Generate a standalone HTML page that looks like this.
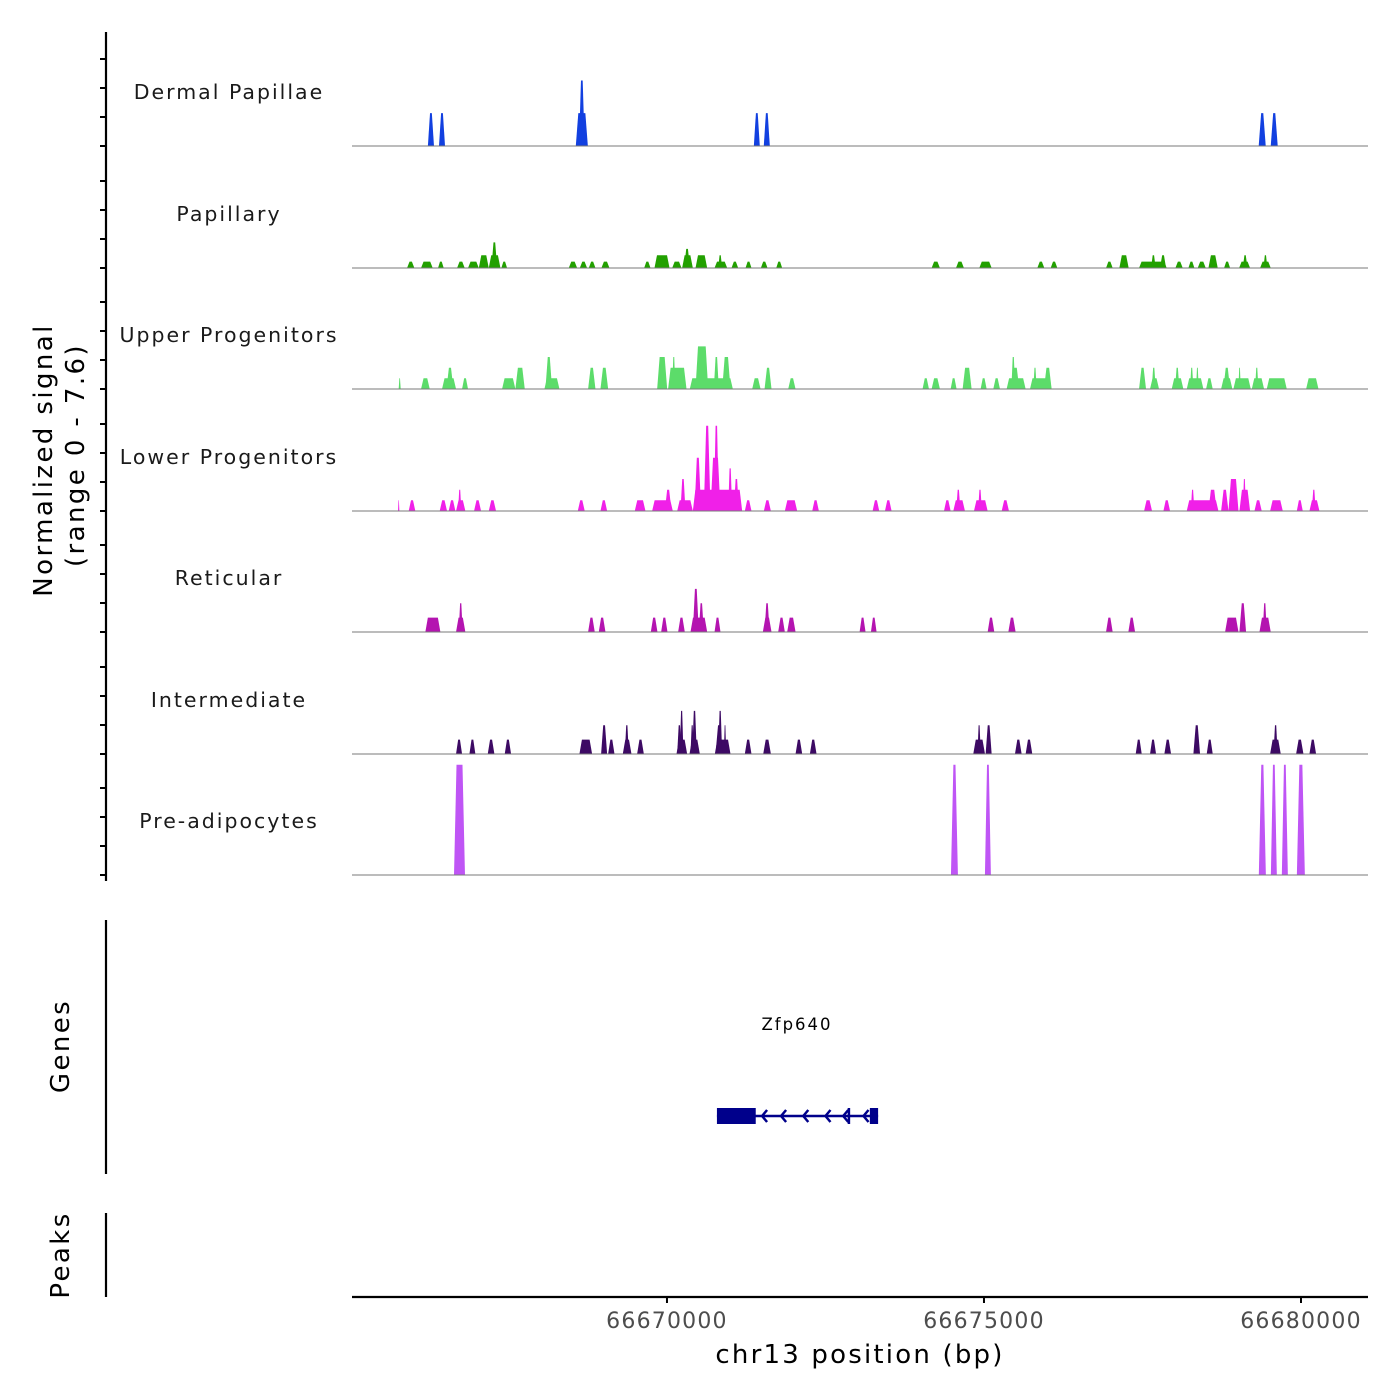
<!DOCTYPE html>
<html><head><meta charset="utf-8"><style>
html,body{margin:0;padding:0;background:#fff;}
svg{display:block;font-family:"DejaVu Sans","Liberation Sans",sans-serif;}
</style></head><body>
<svg id="chart" width="1400" height="1400" viewBox="0 0 1400 1400"></svg>
<script>
const regionStart = 66665032;
const regionEnd = 66681057;
const xTicks = [66670000, 66675000, 66680000];
const trackNames = ["Dermal Papillae","Papillary","Upper Progenitors","Lower Progenitors","Reticular","Intermediate","Pre-adipocytes"];
const trackColors = ["#1240e0","#22a000","#5cdc6a","#f020e8","#b414b0","#3d0a64","#bf55f5"];
const yMax = 7.6;
// peaks: [start offset bp, end offset bp, signal]
const dermalPeaks = [[1197,1293,2.06],[1372,1467,2.06],[3530,3720,2.06],[3580,3670,4.1],[6338,6432,2.06],[6495,6590,2.06],[14301,14412,2.06],[14491,14601,2.06]];
const papillaryPeaks = [[868,984,0.4],[1089,1273,0.4],[1357,1447,0.4],[1657,1778,0.4],[1830,2000,0.4],[2000,2157,0.8],[2157,2341,0.8],[2200,2290,1.6],[2356,2446,0.4],
[3419,3551,0.4],[3593,3708,0.4],[3735,3840,0.4],[3934,4061,0.4],[4608,4708,0.4],[4771,5008,0.8],[5050,5197,0.4],[5207,5376,0.8],[5240,5330,1.2],[5418,5602,0.8],[5718,5918,0.4],[5776,5838,0.8],[5986,6091,0.4],[6207,6301,0.4],[6449,6554,0.4],[6691,6785,0.4],
[9142,9273,0.4],[9526,9652,0.4],[9894,10089,0.4],[10809,10920,0.4],[11020,11125,0.4],[11893,11998,0.4],[12103,12250,0.8],[12414,12850,0.4],[12745,12840,0.8],[12604,12676,0.8],[12987,13103,0.4],[13192,13287,0.4],[13339,13466,0.4],[13508,13655,0.8],[13755,13850,0.4],[13992,14165,0.4],[14050,14123,0.8],[14323,14491,0.4],[14376,14438,0.8]];
const upperPeaks = [[736,768,0.67],[1089,1226,0.67],[1420,1641,0.67],[1490,1600,1.33],[1736,1830,0.67],[2367,2577,0.67],[2577,2725,1.33],[3035,3272,0.67],[3051,3156,2.0],[3724,3840,1.33],[3919,4040,1.33],[4813,4971,2.0],[4986,5276,1.33],[5050,5100,2.0],[5328,6007,0.67],[5418,5618,2.67],[5707,5786,2.0],[5839,5970,2.0],[6312,6444,0.67],[6507,6617,1.33],[6880,6996,0.67],
[8999,9100,0.67],[9142,9273,0.67],[9442,9536,0.67],[9631,9773,1.33],[9915,10010,0.67],[10115,10220,0.67],[10325,10625,0.67],[10404,10525,1.33],[10400,10460,2.0],[10694,11035,0.67],[10746,10799,1.33],[10914,11035,1.33],[12414,12524,1.33],[12587,12729,0.67],[12614,12677,1.33],[12929,13113,0.67],[12982,13050,1.33],[13166,13429,0.67],[13218,13271,1.33],[13313,13355,1.33],[13471,13576,0.67],[13708,13886,0.67],[13744,13850,1.33],[13902,14176,0.67],[13981,14018,1.33],[14192,14386,0.67],[14244,14297,1.33],[14428,14744,0.67],[15049,15244,0.67]];
const lowerPeaks = [[726,747,0.67],[894,999,0.67],[1383,1499,0.67],[1525,1631,0.67],[1641,1788,0.67],[1673,1725,1.33],[1925,2036,0.67],[2157,2272,0.67],[3561,3671,0.67],[3919,4024,0.67],[4460,4629,0.67],[4734,5060,0.67],[4934,5039,1.33],[5129,5376,0.67],[5181,5260,2.0],[5376,6154,1.33],[5402,5507,3.33],[5549,5655,5.33],[5655,5812,3.33],[5707,5786,5.33],[5933,5996,2.67],[6023,6102,2.0],[6196,6301,0.67],[6496,6607,0.67],[6827,7022,0.67],[7259,7364,0.67],
[8211,8316,0.67],[8406,8511,0.67],[9337,9442,0.67],[9484,9668,0.67],[9530,9596,1.33],[9810,10026,0.67],[9875,9935,1.33],[10247,10362,0.67],[12493,12619,0.67],[12798,12903,0.67],[13166,13666,0.67],[13230,13286,1.33],[13508,13639,1.33],[13708,13824,1.33],[13824,13982,2.0],[13997,14165,1.33],[14050,14100,2.0],[14234,14349,0.67],[14481,14681,0.67],[14902,14996,0.67],[15101,15259,0.67],[15140,15200,1.33]];
const reticularPeaks = [[1157,1394,0.9],[1641,1788,0.9],[1683,1746,1.8],[3724,3829,0.9],[3892,3998,0.9],[4713,4818,0.9],[4876,4976,0.9],[5144,5249,0.9],[5339,5602,0.9],[5376,5470,2.7],[5470,5549,1.8],[5718,5812,0.9],[6480,6617,0.9],[6507,6586,1.8],[6722,6827,0.9],[6864,6996,0.9],[8006,8100,0.9],[8185,8274,0.9],[10026,10131,0.9],[10352,10467,0.9],[11893,11998,0.9],[12245,12351,0.9],[13771,13982,0.9],[13997,14102,1.8],[14313,14491,0.9],[14365,14428,1.8]];
const intermediatePeaks = [[1641,1736,0.9],[1852,1946,0.9],[2141,2246,0.9],[2409,2509,0.9],[3587,3787,0.9],[3929,4024,1.8],[4040,4140,0.9],[4271,4408,0.9],[4303,4366,1.8],[4497,4603,0.9],[5118,5286,0.9],[5129,5197,1.8],[5170,5228,2.7],[5323,5486,0.9],[5339,5392,1.8],[5366,5438,2.7],[5723,5970,0.9],[5734,5849,1.8],[5776,5838,2.7],[5865,5902,1.8],[6196,6301,0.9],[6486,6607,0.9],[6996,7101,0.9],[7222,7327,0.9],
[9799,9984,0.9],[9865,9917,1.8],[9994,10089,1.8],[10457,10562,0.9],[10625,10730,0.9],[12361,12456,0.9],[12587,12682,0.9],[12813,12919,0.9],[13271,13376,1.8],[13481,13576,0.9],[14481,14649,0.9],[14535,14600,1.8],[14891,15007,0.9],[15101,15206,0.9]];
const preadipoPeaks = [[1609,1782,6.9],[9447,9557,6.9],[9983,10077,6.9],[14303,14414,6.9],[14493,14587,6.9],[14666,14761,6.9],[14903,15029,6.9]];
const allPeaks = [dermalPeaks,papillaryPeaks,upperPeaks,lowerPeaks,reticularPeaks,intermediatePeaks,preadipoPeaks];
const geneName = "Zfp640";
const geneStart = 66670788, geneEnd = 66673330;
const geneExons = [[66670788,66671400],[66672850,66672880],[66673200,66673330]];
const geneArrows = [66671500,66671800,66672150,66672500,66672780,66673100];

const NS="http://www.w3.org/2000/svg";
const svg=document.getElementById('chart');
const X0=352, X1=1368;
function xs(bp){return X0+(bp-regionStart)*(X1-X0)/(regionEnd-regionStart);}
const baselines=[146,268,389,511,632,754,875];
const trackH=121.5;
function ys(v,i){return baselines[i]-v*trackH/yMax;}
function mk(tag,attrs){const e=document.createElementNS(NS,tag);for(const k in attrs)e.setAttribute(k,attrs[k]);svg.appendChild(e);return e;}

allPeaks.forEach((peaks,i)=>{
  peaks.forEach(p=>{
    const a=xs(regionStart+p[0]), b=xs(regionStart+p[1]);
    const t=Math.min(2.5,(b-a)*0.35);
    const y=ys(p[2],i), y0=baselines[i];
    const e=mk('polygon',{points:`${a},${y0} ${a+t},${y} ${b-t},${y} ${b},${y0}`,fill:trackColors[i]});
    
    
  });
  const bl=mk('line',{x1:X0,x2:X1,y1:baselines[i],y2:baselines[i],stroke:'#7a7a7a','stroke-width':1});
  
  
  const lb=mk('text',{x:229,y:baselines[i]-47,'text-anchor':'middle','font-size':20.5,fill:'#1a1a1a','letter-spacing':2});
  lb.textContent=trackNames[i];
  
  
});

const ax=mk('line',{x1:106,x2:106,y1:32,y2:881,stroke:'#000','stroke-width':2.2});


baselines.forEach(b=>{for(let k=0;k<4;k++){const tk=mk('line',{x1:100,x2:106,y1:b-k*29,y2:b-k*29,stroke:'#000','stroke-width':2});
  
  }});

const gl=mk('line',{x1:xs(geneStart),x2:xs(geneEnd),y1:1116,y2:1116,stroke:'#00008b','stroke-width':2.5});


geneExons.forEach(e=>{const r=mk('rect',{x:xs(e[0]),y:1108,width:Math.max(2.5,xs(e[1])-xs(e[0])),height:16,fill:'#00008b'});
  
  });
geneArrows.forEach(g=>{const x=xs(g);const p=mk('polyline',{points:`${x+5},1110 ${x},1116 ${x+5},1122`,fill:'none',stroke:'#00008b','stroke-width':2.5});
  
  });
const gn=mk('text',{x:797,y:1030,'text-anchor':'middle','font-size':16.5,fill:'#000','letter-spacing':2});
gn.textContent=geneName;



const ga=mk('line',{x1:106,x2:106,y1:920,y2:1174,stroke:'#000','stroke-width':2.2});


const pa=mk('line',{x1:106,x2:106,y1:1213,y2:1297,stroke:'#000','stroke-width':2.2});



const xa=mk('line',{x1:X0,x2:X1,y1:1297,y2:1297,stroke:'#000','stroke-width':2.2});


xTicks.forEach(t=>{
  const tk=mk('line',{x1:xs(t),x2:xs(t),y1:1297,y2:1303,stroke:'#000','stroke-width':2});
  
  
  const tl=mk('text',{x:xs(t),y:1328,'text-anchor':'middle','font-size':22,fill:'#4d4d4d','letter-spacing':1.2});
  tl.textContent=String(t);
  
  
});
const xt=mk('text',{x:860,y:1363,'text-anchor':'middle','font-size':26,fill:'#000','letter-spacing':2.2});
xt.textContent='chr13 position (bp)';



function rot(txt,x,y){const t=mk('text',{x:0,y:0,transform:`translate(${x},${y}) rotate(-90)`,'text-anchor':'middle','font-size':26,fill:'#000','letter-spacing':2.4});
  t.textContent=txt;return t;}
const y1=rot('Normalized signal',52,460);


const y2=rot('(range 0 - 7.6)',84,455);


const y3=rot('Genes',69,1046);


const y4=rot('Peaks',69,1255);


</script>
</body></html>
